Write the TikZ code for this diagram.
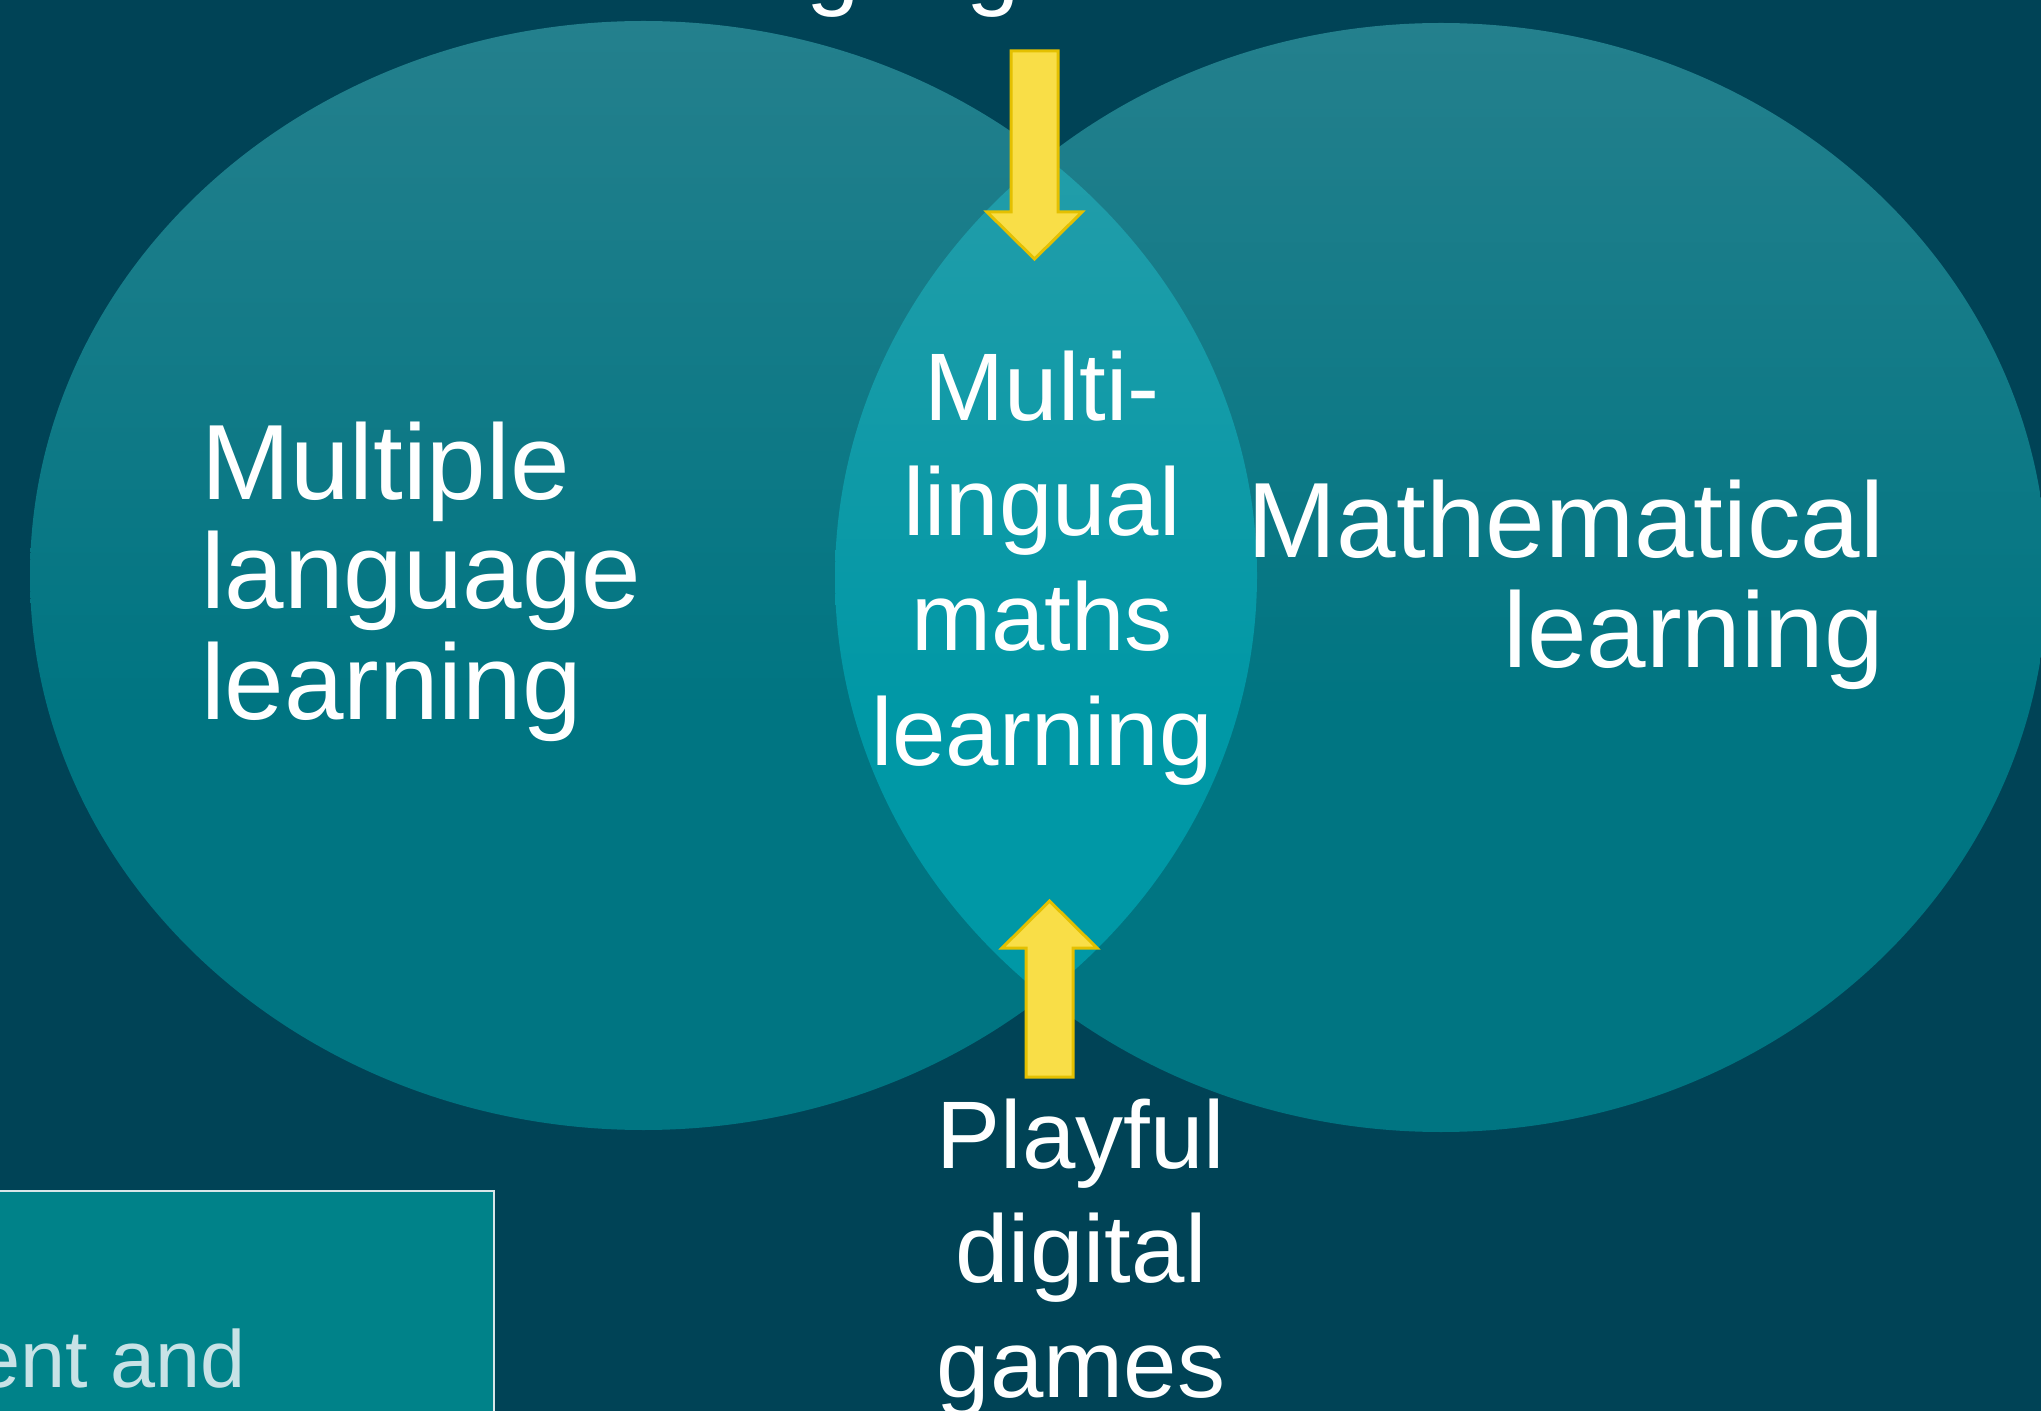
\documentclass[tikz,border=0pt]{standalone}
\usepackage{fontspec}
\setmainfont{Liberation Sans}
\definecolor{bg}{RGB}{0,67,86}
\definecolor{etop}{RGB}{36,128,141}
\definecolor{ebot}{RGB}{0,117,130}
\definecolor{ltop}{RGB}{42,158,170}
\definecolor{lbot}{RGB}{0,152,166}
\definecolor{arrowfill}{RGB}{249,222,71}
\definecolor{arrowline}{RGB}{228,192,0}
\definecolor{boxfill}{RGB}{0,130,137}
\definecolor{boxline}{RGB}{215,230,232}
\definecolor{boxtext}{RGB}{200,226,230}
\pgfdeclareverticalshading{ellshade}{100bp}{color(0bp)=(ebot); color(44bp)=(ebot); color(75bp)=(etop); color(100bp)=(etop)}
\pgfdeclareverticalshading{lensshade}{100bp}{color(0bp)=(lbot); color(44bp)=(lbot); color(75bp)=(ltop); color(100bp)=(ltop)}
\tikzset{
  blockarrow/.style={fill=arrowfill, draw=arrowline, line width=1.5pt, line join=miter},
  lbl/.style={text=white, inner sep=0pt, outer sep=0pt},
  bigfont/.style={font=\fontsize{53.5}{55}\selectfont},
  midfont/.style={font=\fontsize{48}{57.5}\selectfont},
}
\begin{document}
\begin{tikzpicture}[x=0.5pt,y=0.5pt]
\useasboundingbox (0,0) rectangle (2041,-1411);
\clip (0,0) rectangle (2041,-1411);
\fill[bg] (0,0) rectangle (2041,-1411);
% ellipses
\path[shading=ellshade] (643.5,-575.5) ellipse [x radius=306.75pt, y radius=277.25pt];
\path[shading=ellshade] (1441,-577.5) ellipse [x radius=303pt, y radius=277.25pt];
\begin{scope}
  \clip (643.5,-575.5) ellipse [x radius=306.75pt, y radius=277.25pt];
  \path[shading=lensshade] (1441,-577.5) ellipse [x radius=303pt, y radius=277.25pt];
\end{scope}
% bottom-left box
\draw[fill=boxfill, draw=boxline, line width=1pt] (-10,-1191) rectangle (494,-1430);
\node[lbl, text=boxtext, font=\fontsize{40.5}{48}\selectfont, anchor=base west] (boxtxt) at (-25,-1387) {ent and};
% top label (mostly outside the picture)
\node[lbl, midfont, anchor=base west] (toplbl) at (646,2) {Language};
% arrows
\coordinate (topend) at (1034.5,-259);
\draw[blockarrow] (1011,-51) -- (1058,-51) -- (1058,-212) -- (1082,-212) -- (topend) -- (987,-212) -- (1011,-212) -- cycle;
\coordinate (botend) at (1049.5,-901);
\draw[blockarrow] (1026,-1077) -- (1073,-1077) -- (1073,-948) -- (1097,-948) -- (botend) -- (1002,-948) -- (1026,-948) -- cycle;
% labels (base anchor = baseline of the last line)
\node[lbl, bigfont, align=left, anchor=base west] (lang) at (201,-719) {Multiple\\language\\learning};
\node[lbl, bigfont, align=right, anchor=base east] (math) at (1884,-668) {Mathematical\\learning};
\node[lbl, midfont, align=center, anchor=base] (lens) at (1042,-765) {Multi-\\lingual\\maths\\learning};
\node[lbl, font=\fontsize{48}{57.25}\selectfont, align=center, anchor=base] (games) at (1081,-1397) {Playful\\digital\\games};
\end{tikzpicture}
\end{document}
